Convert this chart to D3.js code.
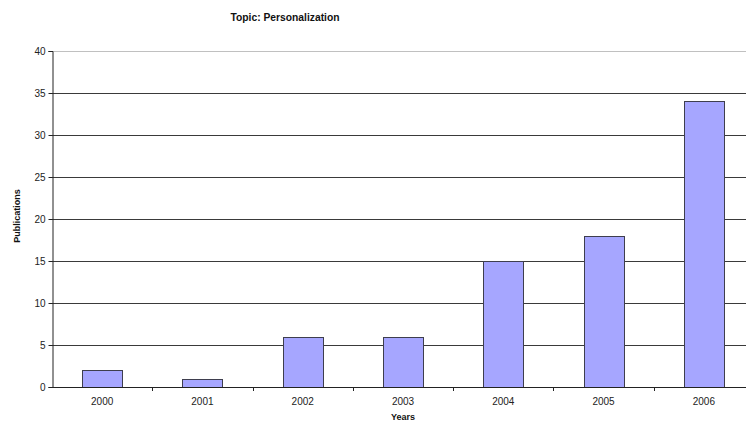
<!DOCTYPE html>
<html>
<head>
<meta charset="utf-8">
<script src="https://cdn.jsdelivr.net/npm/d3@7"></script>
<style>
  html, body { margin: 0; padding: 0; background: #fff; }
  svg { display: block; font-family: "Liberation Sans", Arial, sans-serif; }
</style>
</head>
<body>
<svg id="chart" width="746" height="423"></svg>
<script>
// Publications per year on the topic
const years = ["2000", "2001", "2002", "2003", "2004", "2005", "2006"];
const publications = [2, 1, 6, 6, 15, 18, 34];
const yTicks = [0, 5, 10, 15, 20, 25, 30, 35, 40];

const svg = d3.select("#chart");
const plot = { left: 52, right: 754, top: 51, bottom: 387 };

const x = d3.scaleBand()
  .domain(years)
  .range([plot.left, plot.right])
  .paddingInner(0.6)
  .paddingOuter(0.3);

const y = d3.scaleLinear()
  .domain([0, 40])
  .range([plot.bottom, plot.top]);

// horizontal gridlines
svg.append("g")
  .selectAll("line")
  .data(yTicks.filter(d => d > 0))
  .join("line")
  .attr("x1", plot.left).attr("x2", plot.right)
  .attr("y1", d => Math.round(y(d)) + 0.5).attr("y2", d => Math.round(y(d)) + 0.5)
  .attr("stroke", d => d === 40 ? "#c0c0c0" : "#3a3a3a")
  .attr("stroke-width", 1);

// bars
svg.append("g")
  .selectAll("rect")
  .data(years.map((yr, i) => ({ yr, v: publications[i] })))
  .join("rect")
  .attr("x", d => Math.round(x(d.yr)) + 0.5)
  .attr("y", d => Math.round(y(d.v)) + 0.5)
  .attr("width", Math.round(x.bandwidth()))
  .attr("height", d => Math.round(y(0)) - Math.round(y(d.v)))
  .attr("fill", "#a6a6ff")
  .attr("stroke", "#3e3e4e")
  .attr("stroke-width", 1);

// y axis
const yAxis = svg.append("g")
  .attr("transform", `translate(${plot.left + 0.5},0)`)
  .call(d3.axisLeft(y).tickValues(yTicks).tickSize(4).tickPadding(3));
yAxis.select(".domain").attr("stroke", "#222");
yAxis.selectAll(".tick line").attr("stroke", "#222");
yAxis.selectAll(".tick text")
  .attr("font-size", 10)
  .attr("fill", "#222")
  .attr("font-family", "Liberation Sans, Arial, sans-serif");

// x axis line with ticks between categories
const xg = svg.append("g");
xg.append("line")
  .attr("x1", plot.left).attr("x2", plot.right)
  .attr("y1", Math.round(y(0)) + 0.5).attr("y2", Math.round(y(0)) + 0.5)
  .attr("stroke", "#222");
xg.selectAll("line.sep")
  .data(years.slice(1))
  .join("line")
  .attr("class", "sep")
  .attr("x1", d => Math.round(x(d) - x.step() * x.paddingInner() / 2) + 0.5)
  .attr("x2", d => Math.round(x(d) - x.step() * x.paddingInner() / 2) + 0.5)
  .attr("y1", Math.round(y(0))).attr("y2", Math.round(y(0)) + 4)
  .attr("stroke", "#222");
xg.selectAll("text")
  .data(years)
  .join("text")
  .attr("x", d => x(d) + x.bandwidth() / 2)
  .attr("y", 405)
  .attr("text-anchor", "middle")
  .attr("font-size", 10)
  .attr("fill", "#222")
  .text(d => d);

// titles
svg.append("text")
  .attr("x", 285).attr("y", 21)
  .attr("text-anchor", "middle")
  .attr("font-size", 10.3).attr("font-weight", "bold")
  .attr("fill", "#111")
  .text("Topic: Personalization");

svg.append("text")
  .attr("x", 403).attr("y", 420)
  .attr("text-anchor", "middle")
  .attr("font-size", 9).attr("font-weight", "bold")
  .attr("fill", "#111")
  .text("Years");

svg.append("text")
  .attr("transform", "translate(20,216) rotate(-90)")
  .attr("text-anchor", "middle")
  .attr("font-size", 9).attr("font-weight", "bold")
  .attr("fill", "#111")
  .text("Publications");
</script>
</body>
</html>
